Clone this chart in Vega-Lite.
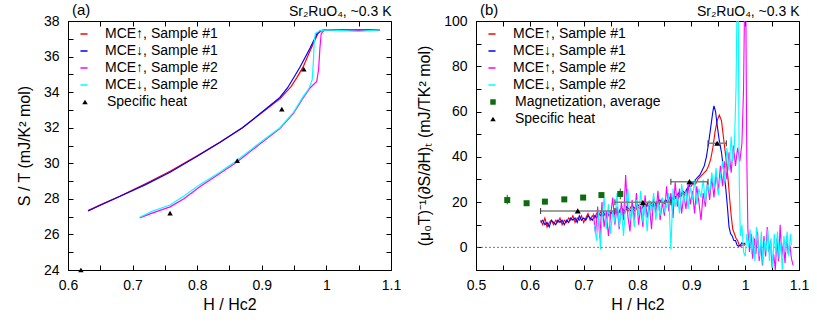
{
"$schema": "https://vega.github.io/schema/vega-lite/v6.json",
"padding": {"left": 15, "top": 2, "right": 4, "bottom": 4},
"spacing": 14,
"config": {
 "font": "Liberation Sans",
 "view": {"stroke": "black", "strokeWidth": 1},
 "axis": {"domainColor": "black", "domainWidth": 1, "tickColor": "black", "tickSize": 5, "tickWidth": 1, "labelPadding": 8, "labelColor": "black", "labelFontSize": 14, "titleColor": "black", "titleFontSize": 16, "titleFontWeight": "normal", "grid": false, "gridColor": "black", "gridWidth": 1, "gridOpacity": 1, "gridDash": [5, 600], "labelFlush": false, "labelOverlap": false},
 "legend": {"labelColor": "black"},
 "title": {"color": "black", "fontWeight": "normal", "fontSize": 15}
},
"datasets": {
 "leftLines": [
  {"s":"MCE↑, Sample #1","x":0.631,"y":27.34},{"s":"MCE↑, Sample #1","x":0.65,"y":27.66},{"s":"MCE↑, Sample #1","x":0.68,"y":28.15},{"s":"MCE↑, Sample #1","x":0.72,"y":28.85},{"s":"MCE↑, Sample #1","x":0.758,"y":29.55},{"s":"MCE↑, Sample #1","x":0.8,"y":30.42},{"s":"MCE↑, Sample #1","x":0.835,"y":31.18},{"s":"MCE↑, Sample #1","x":0.87,"y":32.0},{"s":"MCE↑, Sample #1","x":0.897,"y":32.75},{"s":"MCE↑, Sample #1","x":0.928,"y":33.62},{"s":"MCE↑, Sample #1","x":0.945,"y":34.3},{"s":"MCE↑, Sample #1","x":0.954,"y":34.8},{"s":"MCE↑, Sample #1","x":0.964,"y":35.42},{"s":"MCE↑, Sample #1","x":0.972,"y":36.1},{"s":"MCE↑, Sample #1","x":0.98,"y":36.75},{"s":"MCE↑, Sample #1","x":0.987,"y":37.3},{"s":"MCE↑, Sample #1","x":0.993,"y":37.48},{"s":"MCE↑, Sample #1","x":1.0,"y":37.5},{"s":"MCE↑, Sample #1","x":1.04,"y":37.5},{"s":"MCE↑, Sample #1","x":1.083,"y":37.5},
  {"s":"MCE↓, Sample #1","x":0.631,"y":27.32},{"s":"MCE↓, Sample #1","x":0.65,"y":27.64},{"s":"MCE↓, Sample #1","x":0.68,"y":28.13},{"s":"MCE↓, Sample #1","x":0.72,"y":28.8},{"s":"MCE↓, Sample #1","x":0.758,"y":29.5},{"s":"MCE↓, Sample #1","x":0.8,"y":30.4},{"s":"MCE↓, Sample #1","x":0.835,"y":31.17},{"s":"MCE↓, Sample #1","x":0.87,"y":32.0},{"s":"MCE↓, Sample #1","x":0.897,"y":32.78},{"s":"MCE↓, Sample #1","x":0.928,"y":33.7},{"s":"MCE↓, Sample #1","x":0.94,"y":34.25},{"s":"MCE↓, Sample #1","x":0.95,"y":34.85},{"s":"MCE↓, Sample #1","x":0.959,"y":35.4},{"s":"MCE↓, Sample #1","x":0.967,"y":35.95},{"s":"MCE↓, Sample #1","x":0.975,"y":36.5},{"s":"MCE↓, Sample #1","x":0.981,"y":36.95},{"s":"MCE↓, Sample #1","x":0.985,"y":37.27},{"s":"MCE↓, Sample #1","x":0.99,"y":37.45},{"s":"MCE↓, Sample #1","x":1.0,"y":37.5},{"s":"MCE↓, Sample #1","x":1.04,"y":37.48},{"s":"MCE↓, Sample #1","x":1.083,"y":37.5},
  {"s":"MCE↑, Sample #2","x":0.711,"y":26.93},{"s":"MCE↑, Sample #2","x":0.73,"y":27.2},{"s":"MCE↑, Sample #2","x":0.758,"y":27.55},{"s":"MCE↑, Sample #2","x":0.78,"y":28.02},{"s":"MCE↑, Sample #2","x":0.804,"y":28.68},{"s":"MCE↑, Sample #2","x":0.835,"y":29.42},{"s":"MCE↑, Sample #2","x":0.861,"y":30.06},{"s":"MCE↑, Sample #2","x":0.897,"y":31.08},{"s":"MCE↑, Sample #2","x":0.928,"y":31.95},{"s":"MCE↑, Sample #2","x":0.949,"y":32.8},{"s":"MCE↑, Sample #2","x":0.964,"y":33.68},{"s":"MCE↑, Sample #2","x":0.975,"y":34.25},{"s":"MCE↑, Sample #2","x":0.985,"y":34.6},{"s":"MCE↑, Sample #2","x":0.988,"y":35.3},{"s":"MCE↑, Sample #2","x":0.99,"y":36.5},{"s":"MCE↑, Sample #2","x":0.992,"y":37.3},{"s":"MCE↑, Sample #2","x":0.996,"y":37.45},{"s":"MCE↑, Sample #2","x":1.0,"y":37.5},{"s":"MCE↑, Sample #2","x":1.05,"y":37.48},{"s":"MCE↑, Sample #2","x":1.083,"y":37.5},
  {"s":"MCE↓, Sample #2","x":0.711,"y":26.96},{"s":"MCE↓, Sample #2","x":0.73,"y":27.3},{"s":"MCE↓, Sample #2","x":0.758,"y":27.65},{"s":"MCE↓, Sample #2","x":0.78,"y":28.18},{"s":"MCE↓, Sample #2","x":0.804,"y":28.8},{"s":"MCE↓, Sample #2","x":0.835,"y":29.5},{"s":"MCE↓, Sample #2","x":0.861,"y":30.14},{"s":"MCE↓, Sample #2","x":0.897,"y":31.15},{"s":"MCE↓, Sample #2","x":0.928,"y":32.0},{"s":"MCE↓, Sample #2","x":0.949,"y":32.86},{"s":"MCE↓, Sample #2","x":0.964,"y":33.75},{"s":"MCE↓, Sample #2","x":0.973,"y":34.2},{"s":"MCE↓, Sample #2","x":0.978,"y":34.7},{"s":"MCE↓, Sample #2","x":0.98,"y":35.8},{"s":"MCE↓, Sample #2","x":0.981,"y":36.8},{"s":"MCE↓, Sample #2","x":0.983,"y":37.3},{"s":"MCE↓, Sample #2","x":0.99,"y":37.45},{"s":"MCE↓, Sample #2","x":1.0,"y":37.5},{"s":"MCE↓, Sample #2","x":1.05,"y":37.42},{"s":"MCE↓, Sample #2","x":1.083,"y":37.5}
 ],
 "leftSH": [
  {"kind":"Specific heat","x":0.62,"y":24.0},{"kind":"Specific heat","x":0.758,"y":27.2},{"kind":"Specific heat","x":0.862,"y":30.15},{"kind":"Specific heat","x":0.931,"y":33.05},{"kind":"Specific heat","x":0.965,"y":35.3}
 ],
 "rightLines": [
  {"s":"MCE↑, Sample #1","x":0.620,"y":12},{"s":"MCE↑, Sample #1","x":0.624,"y":10},{"s":"MCE↑, Sample #1","x":0.628,"y":13},{"s":"MCE↑, Sample #1","x":0.632,"y":9},{"s":"MCE↑, Sample #1","x":0.636,"y":11},{"s":"MCE↑, Sample #1","x":0.640,"y":12},{"s":"MCE↑, Sample #1","x":0.644,"y":10},{"s":"MCE↑, Sample #1","x":0.648,"y":12},{"s":"MCE↑, Sample #1","x":0.652,"y":11},{"s":"MCE↑, Sample #1","x":0.656,"y":13},{"s":"MCE↑, Sample #1","x":0.660,"y":10},{"s":"MCE↑, Sample #1","x":0.664,"y":12},{"s":"MCE↑, Sample #1","x":0.668,"y":11},{"s":"MCE↑, Sample #1","x":0.672,"y":13},{"s":"MCE↑, Sample #1","x":0.676,"y":12},{"s":"MCE↑, Sample #1","x":0.680,"y":14},{"s":"MCE↑, Sample #1","x":0.684,"y":11},{"s":"MCE↑, Sample #1","x":0.688,"y":13},{"s":"MCE↑, Sample #1","x":0.692,"y":12},{"s":"MCE↑, Sample #1","x":0.696,"y":14},{"s":"MCE↑, Sample #1","x":0.700,"y":11},{"s":"MCE↑, Sample #1","x":0.704,"y":13},{"s":"MCE↑, Sample #1","x":0.708,"y":15},{"s":"MCE↑, Sample #1","x":0.712,"y":12},{"s":"MCE↑, Sample #1","x":0.716,"y":14},{"s":"MCE↑, Sample #1","x":0.720,"y":13},{"s":"MCE↑, Sample #1","x":0.724,"y":15},{"s":"MCE↑, Sample #1","x":0.728,"y":14},{"s":"MCE↑, Sample #1","x":0.732,"y":16},{"s":"MCE↑, Sample #1","x":0.736,"y":14},{"s":"MCE↑, Sample #1","x":0.740,"y":15},{"s":"MCE↑, Sample #1","x":0.744,"y":13},{"s":"MCE↑, Sample #1","x":0.748,"y":16},{"s":"MCE↑, Sample #1","x":0.752,"y":15},{"s":"MCE↑, Sample #1","x":0.756,"y":14},{"s":"MCE↑, Sample #1","x":0.760,"y":16},{"s":"MCE↑, Sample #1","x":0.764,"y":15},{"s":"MCE↑, Sample #1","x":0.768,"y":17},{"s":"MCE↑, Sample #1","x":0.772,"y":16},{"s":"MCE↑, Sample #1","x":0.776,"y":15},{"s":"MCE↑, Sample #1","x":0.780,"y":17},{"s":"MCE↑, Sample #1","x":0.784,"y":16},{"s":"MCE↑, Sample #1","x":0.788,"y":18},{"s":"MCE↑, Sample #1","x":0.792,"y":17},{"s":"MCE↑, Sample #1","x":0.796,"y":16},{"s":"MCE↑, Sample #1","x":0.800,"y":18},{"s":"MCE↑, Sample #1","x":0.804,"y":17},{"s":"MCE↑, Sample #1","x":0.808,"y":19},{"s":"MCE↑, Sample #1","x":0.812,"y":18},{"s":"MCE↑, Sample #1","x":0.816,"y":19},{"s":"MCE↑, Sample #1","x":0.820,"y":18},{"s":"MCE↑, Sample #1","x":0.824,"y":20},{"s":"MCE↑, Sample #1","x":0.828,"y":19},{"s":"MCE↑, Sample #1","x":0.832,"y":18},{"s":"MCE↑, Sample #1","x":0.836,"y":20},{"s":"MCE↑, Sample #1","x":0.840,"y":19},{"s":"MCE↑, Sample #1","x":0.844,"y":21},{"s":"MCE↑, Sample #1","x":0.848,"y":19},{"s":"MCE↑, Sample #1","x":0.852,"y":20},{"s":"MCE↑, Sample #1","x":0.856,"y":21},{"s":"MCE↑, Sample #1","x":0.860,"y":20},{"s":"MCE↑, Sample #1","x":0.864,"y":22},{"s":"MCE↑, Sample #1","x":0.868,"y":21},{"s":"MCE↑, Sample #1","x":0.872,"y":22},{"s":"MCE↑, Sample #1","x":0.876,"y":23},{"s":"MCE↑, Sample #1","x":0.880,"y":22},{"s":"MCE↑, Sample #1","x":0.884,"y":24},{"s":"MCE↑, Sample #1","x":0.888,"y":23},{"s":"MCE↑, Sample #1","x":0.892,"y":25},{"s":"MCE↑, Sample #1","x":0.896,"y":27},{"s":"MCE↑, Sample #1","x":0.900,"y":27},{"s":"MCE↑, Sample #1","x":0.904,"y":29},{"s":"MCE↑, Sample #1","x":0.908,"y":28},{"s":"MCE↑, Sample #1","x":0.912,"y":30},{"s":"MCE↑, Sample #1","x":0.916,"y":31},{"s":"MCE↑, Sample #1","x":0.920,"y":32},{"s":"MCE↑, Sample #1","x":0.924,"y":33},{"s":"MCE↑, Sample #1","x":0.928,"y":34},{"s":"MCE↑, Sample #1","x":0.932,"y":36},{"s":"MCE↑, Sample #1","x":0.936,"y":39},{"s":"MCE↑, Sample #1","x":0.940,"y":44},{"s":"MCE↑, Sample #1","x":0.944,"y":51},{"s":"MCE↑, Sample #1","x":0.948,"y":56},{"s":"MCE↑, Sample #1","x":0.952,"y":58.5},{"s":"MCE↑, Sample #1","x":0.956,"y":56},{"s":"MCE↑, Sample #1","x":0.960,"y":48},{"s":"MCE↑, Sample #1","x":0.964,"y":40},{"s":"MCE↑, Sample #1","x":0.968,"y":31},{"s":"MCE↑, Sample #1","x":0.971,"y":22},{"s":"MCE↑, Sample #1","x":0.974,"y":14},{"s":"MCE↑, Sample #1","x":0.977,"y":8},{"s":"MCE↑, Sample #1","x":0.980,"y":6},{"s":"MCE↑, Sample #1","x":0.983,"y":4},{"s":"MCE↑, Sample #1","x":0.986,"y":3},{"s":"MCE↑, Sample #1","x":0.989,"y":1},{"s":"MCE↑, Sample #1","x":0.992,"y":0.5},{"s":"MCE↑, Sample #1","x":0.995,"y":1},{"s":"MCE↑, Sample #1","x":0.998,"y":1},{"s":"MCE↑, Sample #1","x":1.001,"y":1.5},
  {"s":"MCE↓, Sample #1","x":0.620,"y":11},{"s":"MCE↓, Sample #1","x":0.624,"y":12},{"s":"MCE↓, Sample #1","x":0.628,"y":10},{"s":"MCE↓, Sample #1","x":0.632,"y":11},{"s":"MCE↓, Sample #1","x":0.636,"y":9},{"s":"MCE↓, Sample #1","x":0.640,"y":12},{"s":"MCE↓, Sample #1","x":0.644,"y":11},{"s":"MCE↓, Sample #1","x":0.648,"y":10},{"s":"MCE↓, Sample #1","x":0.652,"y":12},{"s":"MCE↓, Sample #1","x":0.656,"y":11},{"s":"MCE↓, Sample #1","x":0.660,"y":12},{"s":"MCE↓, Sample #1","x":0.664,"y":10},{"s":"MCE↓, Sample #1","x":0.668,"y":12},{"s":"MCE↓, Sample #1","x":0.672,"y":11},{"s":"MCE↓, Sample #1","x":0.676,"y":13},{"s":"MCE↓, Sample #1","x":0.680,"y":12},{"s":"MCE↓, Sample #1","x":0.684,"y":13},{"s":"MCE↓, Sample #1","x":0.688,"y":11},{"s":"MCE↓, Sample #1","x":0.692,"y":14},{"s":"MCE↓, Sample #1","x":0.696,"y":12},{"s":"MCE↓, Sample #1","x":0.700,"y":13},{"s":"MCE↓, Sample #1","x":0.704,"y":12},{"s":"MCE↓, Sample #1","x":0.708,"y":14},{"s":"MCE↓, Sample #1","x":0.712,"y":13},{"s":"MCE↓, Sample #1","x":0.716,"y":12},{"s":"MCE↓, Sample #1","x":0.720,"y":14},{"s":"MCE↓, Sample #1","x":0.724,"y":13},{"s":"MCE↓, Sample #1","x":0.728,"y":15},{"s":"MCE↓, Sample #1","x":0.732,"y":14},{"s":"MCE↓, Sample #1","x":0.736,"y":16},{"s":"MCE↓, Sample #1","x":0.740,"y":14},{"s":"MCE↓, Sample #1","x":0.744,"y":15},{"s":"MCE↓, Sample #1","x":0.748,"y":14},{"s":"MCE↓, Sample #1","x":0.752,"y":16},{"s":"MCE↓, Sample #1","x":0.756,"y":15},{"s":"MCE↓, Sample #1","x":0.760,"y":17},{"s":"MCE↓, Sample #1","x":0.764,"y":15},{"s":"MCE↓, Sample #1","x":0.768,"y":16},{"s":"MCE↓, Sample #1","x":0.772,"y":17},{"s":"MCE↓, Sample #1","x":0.776,"y":16},{"s":"MCE↓, Sample #1","x":0.780,"y":18},{"s":"MCE↓, Sample #1","x":0.784,"y":17},{"s":"MCE↓, Sample #1","x":0.788,"y":16},{"s":"MCE↓, Sample #1","x":0.792,"y":18},{"s":"MCE↓, Sample #1","x":0.796,"y":17},{"s":"MCE↓, Sample #1","x":0.800,"y":19},{"s":"MCE↓, Sample #1","x":0.804,"y":18},{"s":"MCE↓, Sample #1","x":0.808,"y":17},{"s":"MCE↓, Sample #1","x":0.812,"y":19},{"s":"MCE↓, Sample #1","x":0.816,"y":18},{"s":"MCE↓, Sample #1","x":0.820,"y":20},{"s":"MCE↓, Sample #1","x":0.824,"y":19},{"s":"MCE↓, Sample #1","x":0.828,"y":18},{"s":"MCE↓, Sample #1","x":0.832,"y":20},{"s":"MCE↓, Sample #1","x":0.836,"y":19},{"s":"MCE↓, Sample #1","x":0.840,"y":21},{"s":"MCE↓, Sample #1","x":0.844,"y":20},{"s":"MCE↓, Sample #1","x":0.848,"y":19},{"s":"MCE↓, Sample #1","x":0.852,"y":21},{"s":"MCE↓, Sample #1","x":0.856,"y":20},{"s":"MCE↓, Sample #1","x":0.860,"y":22},{"s":"MCE↓, Sample #1","x":0.864,"y":21},{"s":"MCE↓, Sample #1","x":0.868,"y":23},{"s":"MCE↓, Sample #1","x":0.872,"y":22},{"s":"MCE↓, Sample #1","x":0.876,"y":24},{"s":"MCE↓, Sample #1","x":0.880,"y":23},{"s":"MCE↓, Sample #1","x":0.884,"y":25},{"s":"MCE↓, Sample #1","x":0.888,"y":24},{"s":"MCE↓, Sample #1","x":0.892,"y":26},{"s":"MCE↓, Sample #1","x":0.896,"y":27},{"s":"MCE↓, Sample #1","x":0.900,"y":29},{"s":"MCE↓, Sample #1","x":0.904,"y":28},{"s":"MCE↓, Sample #1","x":0.908,"y":30},{"s":"MCE↓, Sample #1","x":0.912,"y":31},{"s":"MCE↓, Sample #1","x":0.916,"y":32},{"s":"MCE↓, Sample #1","x":0.920,"y":34},{"s":"MCE↓, Sample #1","x":0.924,"y":36},{"s":"MCE↓, Sample #1","x":0.928,"y":40},{"s":"MCE↓, Sample #1","x":0.932,"y":46},{"s":"MCE↓, Sample #1","x":0.936,"y":53},{"s":"MCE↓, Sample #1","x":0.940,"y":60},{"s":"MCE↓, Sample #1","x":0.942,"y":62.5},{"s":"MCE↓, Sample #1","x":0.945,"y":60},{"s":"MCE↓, Sample #1","x":0.948,"y":54},{"s":"MCE↓, Sample #1","x":0.952,"y":47},{"s":"MCE↓, Sample #1","x":0.956,"y":42},{"s":"MCE↓, Sample #1","x":0.960,"y":34},{"s":"MCE↓, Sample #1","x":0.964,"y":26},{"s":"MCE↓, Sample #1","x":0.967,"y":18},{"s":"MCE↓, Sample #1","x":0.970,"y":9},{"s":"MCE↓, Sample #1","x":0.973,"y":6},{"s":"MCE↓, Sample #1","x":0.976,"y":5},{"s":"MCE↓, Sample #1","x":0.979,"y":3},{"s":"MCE↓, Sample #1","x":0.982,"y":3},{"s":"MCE↓, Sample #1","x":0.985,"y":1},{"s":"MCE↓, Sample #1","x":0.988,"y":0.5},{"s":"MCE↓, Sample #1","x":0.991,"y":1},{"s":"MCE↓, Sample #1","x":0.994,"y":2},{"s":"MCE↓, Sample #1","x":0.997,"y":1.5},{"s":"MCE↓, Sample #1","x":1.000,"y":2},
  {"s":"MCE↑, Sample #2","x":0.718,"y":15},{"s":"MCE↑, Sample #2","x":0.722,"y":6},{"s":"MCE↑, Sample #2","x":0.726,"y":18},{"s":"MCE↑, Sample #2","x":0.730,"y":4},{"s":"MCE↑, Sample #2","x":0.734,"y":20},{"s":"MCE↑, Sample #2","x":0.738,"y":9},{"s":"MCE↑, Sample #2","x":0.742,"y":16},{"s":"MCE↑, Sample #2","x":0.746,"y":5},{"s":"MCE↑, Sample #2","x":0.750,"y":14},{"s":"MCE↑, Sample #2","x":0.754,"y":22},{"s":"MCE↑, Sample #2","x":0.758,"y":10},{"s":"MCE↑, Sample #2","x":0.762,"y":18},{"s":"MCE↑, Sample #2","x":0.766,"y":8},{"s":"MCE↑, Sample #2","x":0.770,"y":20},{"s":"MCE↑, Sample #2","x":0.774,"y":12},{"s":"MCE↑, Sample #2","x":0.778,"y":32},{"s":"MCE↑, Sample #2","x":0.782,"y":14},{"s":"MCE↑, Sample #2","x":0.786,"y":7},{"s":"MCE↑, Sample #2","x":0.790,"y":21},{"s":"MCE↑, Sample #2","x":0.794,"y":12},{"s":"MCE↑, Sample #2","x":0.798,"y":24},{"s":"MCE↑, Sample #2","x":0.802,"y":10},{"s":"MCE↑, Sample #2","x":0.806,"y":18},{"s":"MCE↑, Sample #2","x":0.810,"y":9},{"s":"MCE↑, Sample #2","x":0.814,"y":23},{"s":"MCE↑, Sample #2","x":0.818,"y":13},{"s":"MCE↑, Sample #2","x":0.822,"y":19},{"s":"MCE↑, Sample #2","x":0.826,"y":8},{"s":"MCE↑, Sample #2","x":0.830,"y":22},{"s":"MCE↑, Sample #2","x":0.834,"y":15},{"s":"MCE↑, Sample #2","x":0.838,"y":25},{"s":"MCE↑, Sample #2","x":0.842,"y":12},{"s":"MCE↑, Sample #2","x":0.846,"y":20},{"s":"MCE↑, Sample #2","x":0.850,"y":14},{"s":"MCE↑, Sample #2","x":0.854,"y":27},{"s":"MCE↑, Sample #2","x":0.858,"y":16},{"s":"MCE↑, Sample #2","x":0.862,"y":24},{"s":"MCE↑, Sample #2","x":0.866,"y":13},{"s":"MCE↑, Sample #2","x":0.870,"y":29},{"s":"MCE↑, Sample #2","x":0.874,"y":18},{"s":"MCE↑, Sample #2","x":0.878,"y":26},{"s":"MCE↑, Sample #2","x":0.882,"y":15},{"s":"MCE↑, Sample #2","x":0.886,"y":23},{"s":"MCE↑, Sample #2","x":0.890,"y":17},{"s":"MCE↑, Sample #2","x":0.894,"y":28},{"s":"MCE↑, Sample #2","x":0.898,"y":19},{"s":"MCE↑, Sample #2","x":0.902,"y":25},{"s":"MCE↑, Sample #2","x":0.906,"y":15},{"s":"MCE↑, Sample #2","x":0.910,"y":27},{"s":"MCE↑, Sample #2","x":0.914,"y":20},{"s":"MCE↑, Sample #2","x":0.918,"y":12},{"s":"MCE↑, Sample #2","x":0.922,"y":24},{"s":"MCE↑, Sample #2","x":0.926,"y":18},{"s":"MCE↑, Sample #2","x":0.930,"y":29},{"s":"MCE↑, Sample #2","x":0.934,"y":21},{"s":"MCE↑, Sample #2","x":0.938,"y":31},{"s":"MCE↑, Sample #2","x":0.942,"y":22},{"s":"MCE↑, Sample #2","x":0.946,"y":33},{"s":"MCE↑, Sample #2","x":0.950,"y":25},{"s":"MCE↑, Sample #2","x":0.954,"y":36},{"s":"MCE↑, Sample #2","x":0.958,"y":27},{"s":"MCE↑, Sample #2","x":0.962,"y":38},{"s":"MCE↑, Sample #2","x":0.966,"y":30},{"s":"MCE↑, Sample #2","x":0.970,"y":42},{"s":"MCE↑, Sample #2","x":0.974,"y":33},{"s":"MCE↑, Sample #2","x":0.978,"y":45},{"s":"MCE↑, Sample #2","x":0.982,"y":36},{"s":"MCE↑, Sample #2","x":0.986,"y":44},{"s":"MCE↑, Sample #2","x":0.990,"y":38},{"s":"MCE↑, Sample #2","x":0.994,"y":46},{"s":"MCE↑, Sample #2","x":0.997,"y":70},{"s":"MCE↑, Sample #2","x":0.999,"y":110},{"s":"MCE↑, Sample #2","x":1.001,"y":115},{"s":"MCE↑, Sample #2","x":1.003,"y":40},{"s":"MCE↑, Sample #2","x":1.005,"y":8},{"s":"MCE↑, Sample #2","x":1.008,"y":-2},{"s":"MCE↑, Sample #2","x":1.011,"y":6},{"s":"MCE↑, Sample #2","x":1.014,"y":-5},{"s":"MCE↑, Sample #2","x":1.017,"y":4},{"s":"MCE↑, Sample #2","x":1.020,"y":-3},{"s":"MCE↑, Sample #2","x":1.023,"y":7},{"s":"MCE↑, Sample #2","x":1.026,"y":-6},{"s":"MCE↑, Sample #2","x":1.029,"y":2},{"s":"MCE↑, Sample #2","x":1.032,"y":-8},{"s":"MCE↑, Sample #2","x":1.035,"y":5},{"s":"MCE↑, Sample #2","x":1.038,"y":-4},{"s":"MCE↑, Sample #2","x":1.041,"y":9},{"s":"MCE↑, Sample #2","x":1.044,"y":-2},{"s":"MCE↑, Sample #2","x":1.047,"y":3},{"s":"MCE↑, Sample #2","x":1.050,"y":-9},{"s":"MCE↑, Sample #2","x":1.053,"y":-3},{"s":"MCE↑, Sample #2","x":1.056,"y":-10},{"s":"MCE↑, Sample #2","x":1.059,"y":4},{"s":"MCE↑, Sample #2","x":1.062,"y":-6},{"s":"MCE↑, Sample #2","x":1.065,"y":10},{"s":"MCE↑, Sample #2","x":1.068,"y":-4},{"s":"MCE↑, Sample #2","x":1.071,"y":2},{"s":"MCE↑, Sample #2","x":1.074,"y":-7},{"s":"MCE↑, Sample #2","x":1.077,"y":5},{"s":"MCE↑, Sample #2","x":1.080,"y":-3},{"s":"MCE↑, Sample #2","x":1.083,"y":1},{"s":"MCE↑, Sample #2","x":1.086,"y":-5},{"s":"MCE↑, Sample #2","x":1.089,"y":-8},
  {"s":"MCE↓, Sample #2","x":0.720,"y":10},{"s":"MCE↓, Sample #2","x":0.724,"y":3},{"s":"MCE↓, Sample #2","x":0.728,"y":16},{"s":"MCE↓, Sample #2","x":0.731,"y":-1},{"s":"MCE↓, Sample #2","x":0.734,"y":13},{"s":"MCE↓, Sample #2","x":0.738,"y":22},{"s":"MCE↓, Sample #2","x":0.742,"y":8},{"s":"MCE↓, Sample #2","x":0.746,"y":19},{"s":"MCE↓, Sample #2","x":0.750,"y":6},{"s":"MCE↓, Sample #2","x":0.754,"y":16},{"s":"MCE↓, Sample #2","x":0.758,"y":11},{"s":"MCE↓, Sample #2","x":0.762,"y":24},{"s":"MCE↓, Sample #2","x":0.766,"y":9},{"s":"MCE↓, Sample #2","x":0.770,"y":17},{"s":"MCE↓, Sample #2","x":0.774,"y":5},{"s":"MCE↓, Sample #2","x":0.778,"y":19},{"s":"MCE↓, Sample #2","x":0.782,"y":26},{"s":"MCE↓, Sample #2","x":0.786,"y":12},{"s":"MCE↓, Sample #2","x":0.790,"y":18},{"s":"MCE↓, Sample #2","x":0.794,"y":9},{"s":"MCE↓, Sample #2","x":0.798,"y":21},{"s":"MCE↓, Sample #2","x":0.802,"y":14},{"s":"MCE↓, Sample #2","x":0.806,"y":25},{"s":"MCE↓, Sample #2","x":0.810,"y":11},{"s":"MCE↓, Sample #2","x":0.814,"y":19},{"s":"MCE↓, Sample #2","x":0.818,"y":7},{"s":"MCE↓, Sample #2","x":0.822,"y":21},{"s":"MCE↓, Sample #2","x":0.826,"y":16},{"s":"MCE↓, Sample #2","x":0.830,"y":24},{"s":"MCE↓, Sample #2","x":0.834,"y":12},{"s":"MCE↓, Sample #2","x":0.838,"y":20},{"s":"MCE↓, Sample #2","x":0.842,"y":14},{"s":"MCE↓, Sample #2","x":0.846,"y":22},{"s":"MCE↓, Sample #2","x":0.850,"y":16},{"s":"MCE↓, Sample #2","x":0.854,"y":18},{"s":"MCE↓, Sample #2","x":0.858,"y":24},{"s":"MCE↓, Sample #2","x":0.862,"y":-1},{"s":"MCE↓, Sample #2","x":0.866,"y":26},{"s":"MCE↓, Sample #2","x":0.870,"y":18},{"s":"MCE↓, Sample #2","x":0.874,"y":23},{"s":"MCE↓, Sample #2","x":0.878,"y":15},{"s":"MCE↓, Sample #2","x":0.882,"y":28},{"s":"MCE↓, Sample #2","x":0.886,"y":20},{"s":"MCE↓, Sample #2","x":0.890,"y":25},{"s":"MCE↓, Sample #2","x":0.894,"y":17},{"s":"MCE↓, Sample #2","x":0.898,"y":27},{"s":"MCE↓, Sample #2","x":0.902,"y":21},{"s":"MCE↓, Sample #2","x":0.906,"y":30},{"s":"MCE↓, Sample #2","x":0.910,"y":19},{"s":"MCE↓, Sample #2","x":0.914,"y":26},{"s":"MCE↓, Sample #2","x":0.918,"y":22},{"s":"MCE↓, Sample #2","x":0.922,"y":30},{"s":"MCE↓, Sample #2","x":0.926,"y":20},{"s":"MCE↓, Sample #2","x":0.930,"y":28},{"s":"MCE↓, Sample #2","x":0.934,"y":24},{"s":"MCE↓, Sample #2","x":0.938,"y":33},{"s":"MCE↓, Sample #2","x":0.942,"y":26},{"s":"MCE↓, Sample #2","x":0.946,"y":35},{"s":"MCE↓, Sample #2","x":0.950,"y":23},{"s":"MCE↓, Sample #2","x":0.954,"y":31},{"s":"MCE↓, Sample #2","x":0.958,"y":38},{"s":"MCE↓, Sample #2","x":0.962,"y":29},{"s":"MCE↓, Sample #2","x":0.966,"y":44},{"s":"MCE↓, Sample #2","x":0.970,"y":34},{"s":"MCE↓, Sample #2","x":0.974,"y":49},{"s":"MCE↓, Sample #2","x":0.977,"y":38},{"s":"MCE↓, Sample #2","x":0.980,"y":45},{"s":"MCE↓, Sample #2","x":0.983,"y":70},{"s":"MCE↓, Sample #2","x":0.985,"y":110},{"s":"MCE↓, Sample #2","x":0.987,"y":110},{"s":"MCE↓, Sample #2","x":0.989,"y":30},{"s":"MCE↓, Sample #2","x":0.991,"y":5},{"s":"MCE↓, Sample #2","x":0.994,"y":10},{"s":"MCE↓, Sample #2","x":0.997,"y":-2},{"s":"MCE↓, Sample #2","x":1.000,"y":-4},{"s":"MCE↓, Sample #2","x":1.003,"y":6},{"s":"MCE↓, Sample #2","x":1.006,"y":0},{"s":"MCE↓, Sample #2","x":1.009,"y":8},{"s":"MCE↓, Sample #2","x":1.012,"y":-3},{"s":"MCE↓, Sample #2","x":1.015,"y":5},{"s":"MCE↓, Sample #2","x":1.018,"y":-6},{"s":"MCE↓, Sample #2","x":1.021,"y":9},{"s":"MCE↓, Sample #2","x":1.024,"y":1},{"s":"MCE↓, Sample #2","x":1.027,"y":-4},{"s":"MCE↓, Sample #2","x":1.030,"y":7},{"s":"MCE↓, Sample #2","x":1.033,"y":-8},{"s":"MCE↓, Sample #2","x":1.036,"y":3},{"s":"MCE↓, Sample #2","x":1.039,"y":-2},{"s":"MCE↓, Sample #2","x":1.042,"y":8},{"s":"MCE↓, Sample #2","x":1.045,"y":-6},{"s":"MCE↓, Sample #2","x":1.048,"y":4},{"s":"MCE↓, Sample #2","x":1.051,"y":-9},{"s":"MCE↓, Sample #2","x":1.054,"y":6},{"s":"MCE↓, Sample #2","x":1.057,"y":-3},{"s":"MCE↓, Sample #2","x":1.060,"y":7},{"s":"MCE↓, Sample #2","x":1.063,"y":-5},{"s":"MCE↓, Sample #2","x":1.066,"y":2},{"s":"MCE↓, Sample #2","x":1.069,"y":-10},{"s":"MCE↓, Sample #2","x":1.072,"y":5},{"s":"MCE↓, Sample #2","x":1.075,"y":-2},{"s":"MCE↓, Sample #2","x":1.078,"y":7},{"s":"MCE↓, Sample #2","x":1.081,"y":-4},{"s":"MCE↓, Sample #2","x":1.084,"y":6},{"s":"MCE↓, Sample #2","x":1.086,"y":1}
 ],
 "rpts": [
  {"kind":"Magnetization, average","x":0.558,"y":20.9,"lo":19.0,"hi":23.2},
  {"kind":"Magnetization, average","x":0.594,"y":19.5,"lo":18.5,"hi":20.5},
  {"kind":"Magnetization, average","x":0.628,"y":20.2,"lo":19.0,"hi":21.4},
  {"kind":"Magnetization, average","x":0.664,"y":21.2,"lo":20.4,"hi":22.0},
  {"kind":"Magnetization, average","x":0.699,"y":22.0,"lo":21.0,"hi":23.0},
  {"kind":"Magnetization, average","x":0.733,"y":23.1,"lo":22.2,"hi":24.0},
  {"kind":"Magnetization, average","x":0.768,"y":23.6,"lo":21.2,"hi":26.0},
  {"kind":"Specific heat","x":0.689,"y":16.1,"xlo":0.62,"xhi":0.758},
  {"kind":"Specific heat","x":0.810,"y":19.9,"xlo":0.758,"xhi":0.862},
  {"kind":"Specific heat","x":0.8965,"y":29.0,"xlo":0.862,"xhi":0.931},
  {"kind":"Specific heat","x":0.948,"y":46.0,"xlo":0.931,"xhi":0.965}
 ]
},
"hconcat": [
 {
  "width": 323, "height": 249,
  "title": {"text": "(a)", "anchor": "start", "frame": "group", "offset": -14, "dx": 4, "fontSize": 15},
  "layer": [
   {
    "data": {"name": "leftLines"},
    "mark": {"type": "line", "strokeWidth": 1.2, "clip": true},
    "encoding": {
     "x": {"field": "x", "type": "quantitative", "scale": {"domain": [0.6, 1.1], "nice": false, "zero": false},
      "axis": {"orient": "bottom", "title": "H / Hc2", "ticks": false, "grid": true, "values": [0.6,0.65,0.7,0.75,0.8,0.85,0.9,0.95,1.0,1.05,1.1], "format": "~g", "labelExpr": "round(datum.value*100) % 10 == 0 ? datum.label : ''", "labelPadding": 8, "titlePadding": 4}},
     "y": {"field": "y", "type": "quantitative", "scale": {"domain": [24, 38], "nice": false, "zero": false},
      "axis": {"orient": "left", "title": "S / T (mJ/K² mol)", "ticks": false, "grid": true, "values": [24,25,26,27,28,29,30,31,32,33,34,35,36,37,38], "labelExpr": "datum.value % 2 == 0 ? datum.label : ''", "labelPadding": 9, "titlePadding": 11}},
     "color": {"field": "s", "type": "nominal",
      "scale": {"domain": ["MCE↑, Sample #1","MCE↓, Sample #1","MCE↑, Sample #2","MCE↓, Sample #2"], "range": ["#ff0000","#0000ff","#ff00ff","#00ffff"]},
      "legend": {"orient": "none", "legendX": 9, "legendY": 6, "title": null, "symbolType": "stroke", "symbolSize": 50, "symbolStrokeWidth": 1.5, "labelFontSize": 14, "rowPadding": 3, "labelOffset": 14}}
    }
   },
   {
    "data": {"name": "leftSH"},
    "mark": {"type": "point", "filled": true, "size": 30, "opacity": 1},
    "encoding": {
     "x": {"field": "x", "type": "quantitative", "scale": {"domain": [0.6, 1.1], "nice": false, "zero": false},
      "axis": {"orient": "top", "labels": false, "domain": false, "ticks": false, "grid": true, "title": "Sr₂RuO₄, ~0.3 K", "titleAnchor": "end", "titleFontSize": 14, "titlePadding": 3, "values": [0.6,0.65,0.7,0.75,0.8,0.85,0.9,0.95,1.0,1.05,1.1]}},
     "y": {"field": "y", "type": "quantitative", "scale": {"domain": [24, 38], "nice": false, "zero": false},
      "axis": {"orient": "right", "labels": false, "domain": false, "ticks": false, "grid": true, "title": null, "values": [24,25,26,27,28,29,30,31,32,33,34,35,36,37,38]}},
     "shape": {"field": "kind", "type": "nominal", "scale": {"domain": ["Specific heat"], "range": ["triangle-up"]},
      "legend": {"orient": "none", "legendX": 10, "legendY": 74, "title": null, "labelFontSize": 14, "labelOffset": 15, "symbolSize": 30}},
     "fill": {"field": "kind", "type": "nominal", "scale": {"domain": ["Specific heat"], "range": ["black"]},
      "legend": {"orient": "none", "legendX": 10, "legendY": 74, "title": null, "labelFontSize": 14, "labelOffset": 15, "symbolSize": 30}}
    }
   }
  ],
  "resolve": {"axis": {"x": "independent", "y": "independent"}}
 },
 {
  "width": 323, "height": 249,
  "title": {"text": "(b)", "anchor": "start", "frame": "group", "offset": -14, "dx": 4, "fontSize": 15},
  "layer": [
   {
    "data": {"values": [{}]},
    "mark": {"type": "rule", "strokeDash": [2, 2], "color": "#555", "strokeWidth": 0.8},
    "encoding": {"y": {"datum": 0, "type": "quantitative", "scale": {"domain": [-10, 100], "nice": false, "zero": false}, "axis": null}}
   },
   {
    "data": {"name": "rightLines"},
    "mark": {"type": "line", "strokeWidth": 1.1, "clip": true},
    "encoding": {
     "x": {"field": "x", "type": "quantitative", "scale": {"domain": [0.5, 1.1], "nice": false, "zero": false},
      "axis": {"orient": "bottom", "title": "H / Hc2", "ticks": false, "grid": true, "values": [0.5,0.55,0.6,0.65,0.7,0.75,0.8,0.85,0.9,0.95,1.0,1.05,1.1], "format": "~g", "labelExpr": "round(datum.value*100) % 10 == 0 ? datum.label : ''", "labelPadding": 8, "titlePadding": 4}},
     "y": {"field": "y", "type": "quantitative", "scale": {"domain": [-10, 100], "nice": false, "zero": false},
      "axis": {"orient": "left", "title": "(μ₀T)⁻¹(∂S/∂H)ₜ (mJ/TK² mol)", "ticks": false, "grid": true, "values": [-10,0,10,20,30,40,50,60,70,80,90,100], "labelExpr": "datum.value % 20 == 0 ? datum.label : ''", "labelPadding": 9, "titlePadding": 11}},
     "color": {"field": "s", "type": "nominal",
      "scale": {"domain": ["MCE↑, Sample #1","MCE↓, Sample #1","MCE↑, Sample #2","MCE↓, Sample #2"], "range": ["#ff0000","#0000ff","#ff00ff","#00ffff"]},
      "legend": {"orient": "none", "legendX": 9, "legendY": 6, "title": null, "symbolType": "stroke", "symbolSize": 50, "symbolStrokeWidth": 1.5, "labelFontSize": 14, "rowPadding": 3, "labelOffset": 14}}
    }
   },
   {
    "data": {"name": "rpts"},
    "transform": [{"filter": {"field": "kind", "equal": "Specific heat"}}],
    "mark": {"type": "rule", "color": "#808080", "strokeWidth": 1.5},
    "encoding": {
     "x": {"field": "xlo", "type": "quantitative", "scale": {"domain": [0.5, 1.1], "nice": false, "zero": false}, "axis": null},
     "x2": {"field": "xhi"},
     "y": {"field": "y", "type": "quantitative", "scale": {"domain": [-10, 100], "nice": false, "zero": false}, "axis": null}
    }
   },
   {
    "data": {"name": "rpts"},
    "transform": [{"filter": {"field": "kind", "equal": "Specific heat"}}],
    "mark": {"type": "tick", "orient": "vertical", "size": 6, "thickness": 1, "color": "#333", "opacity": 1},
    "encoding": {
     "x": {"field": "xlo", "type": "quantitative", "scale": {"domain": [0.5, 1.1], "nice": false, "zero": false}, "axis": null},
     "y": {"field": "y", "type": "quantitative", "scale": {"domain": [-10, 100], "nice": false, "zero": false}, "axis": null}
    }
   },
   {
    "data": {"name": "rpts"},
    "transform": [{"filter": {"field": "kind", "equal": "Specific heat"}}],
    "mark": {"type": "tick", "orient": "vertical", "size": 6, "thickness": 1, "color": "#333", "opacity": 1},
    "encoding": {
     "x": {"field": "xhi", "type": "quantitative", "scale": {"domain": [0.5, 1.1], "nice": false, "zero": false}, "axis": null},
     "y": {"field": "y", "type": "quantitative", "scale": {"domain": [-10, 100], "nice": false, "zero": false}, "axis": null}
    }
   },
   {
    "data": {"name": "rpts"},
    "transform": [{"filter": {"field": "kind", "equal": "Magnetization, average"}}],
    "mark": {"type": "rule", "color": "#0f6b0f", "strokeWidth": 1},
    "encoding": {
     "x": {"field": "x", "type": "quantitative", "scale": {"domain": [0.5, 1.1], "nice": false, "zero": false}, "axis": null},
     "y": {"field": "lo", "type": "quantitative", "scale": {"domain": [-10, 100], "nice": false, "zero": false}, "axis": null},
     "y2": {"field": "hi"}
    }
   },
   {
    "data": {"name": "rpts"},
    "mark": {"type": "point", "filled": true, "opacity": 1, "size": 36},
    "encoding": {
     "x": {"field": "x", "type": "quantitative", "scale": {"domain": [0.5, 1.1], "nice": false, "zero": false},
      "axis": {"orient": "top", "labels": false, "domain": false, "ticks": false, "grid": true, "title": "Sr₂RuO₄, ~0.3 K", "titleAnchor": "end", "titleFontSize": 14, "titlePadding": 3, "values": [0.5,0.55,0.6,0.65,0.7,0.75,0.8,0.85,0.9,0.95,1.0,1.05,1.1]}},
     "y": {"field": "y", "type": "quantitative", "scale": {"domain": [-10, 100], "nice": false, "zero": false},
      "axis": {"orient": "right", "labels": false, "domain": false, "ticks": false, "grid": true, "title": null, "values": [-10,0,10,20,30,40,50,60,70,80,90,100]}},
     "shape": {"field": "kind", "type": "nominal", "scale": {"domain": ["Magnetization, average","Specific heat"], "range": ["square","triangle-up"]},
      "legend": {"orient": "none", "legendX": 10, "legendY": 74, "title": null, "labelFontSize": 14, "labelOffset": 15, "rowPadding": 3, "symbolSize": 30}},
     "fill": {"field": "kind", "type": "nominal", "scale": {"domain": ["Magnetization, average","Specific heat"], "range": ["#0f6b0f","black"]},
      "legend": {"orient": "none", "legendX": 10, "legendY": 74, "title": null, "labelFontSize": 14, "labelOffset": 15, "rowPadding": 3, "symbolSize": 30}}
    }
   }
  ],
  "resolve": {"axis": {"x": "independent", "y": "independent"}}
 }
],
"resolve": {"scale": {"color": "independent", "shape": "independent", "fill": "independent"}}
}
